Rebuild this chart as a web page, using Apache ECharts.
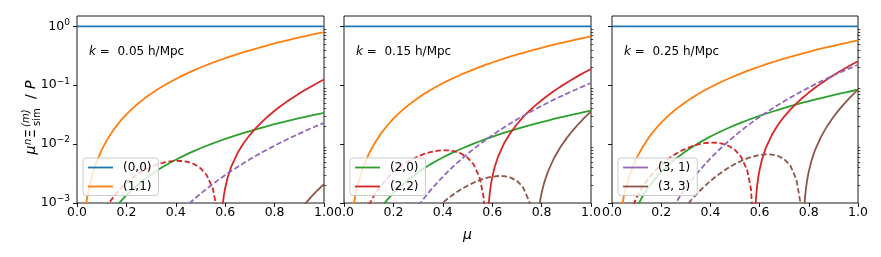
<!DOCTYPE html>
<html><head><meta charset="utf-8">
<script src="https://cdn.jsdelivr.net/npm/echarts@6/dist/echarts.min.js"></script>
<style>html,body{margin:0;padding:0;background:#fff}#c{width:881px;height:257px}</style>
</head><body><div id="c"></div>
<script>
// ---- data ----
const mu = [0.025,0.05,0.075,0.1,0.125,0.15,0.175,0.2,0.225,0.25,0.275,0.3,0.325,0.35,0.375,0.4,0.425,0.45,0.475,0.5,0.525,0.55,0.565,0.575,0.585,0.6,0.625,0.65,0.675,0.7,0.725,0.75,0.765,0.77,0.775,0.785,0.8,0.825,0.85,0.875,0.9,0.925,0.95,0.975,1.0];
const muRedPos = [0.58,0.585,0.59,0.595,0.6,0.61,0.625,0.65,0.675,0.7,0.725,0.75,0.775,0.8,0.825,0.85,0.875,0.9,0.925,0.95,0.975,1.0];
const muBrownPos = [0.775,0.78,0.785,0.79,0.795,0.8,0.81,0.825,0.85,0.875,0.9,0.925,0.95,0.975,1.0];
const muEnds = [0, 1];
const panelLabels = ['0.05', '0.15', '0.25'];
const legendNames = [['(0,0)', '(1,1)'], ['(2,0)', '(2,2)'], ['(3,1)', '(3,3)']];
const yMajorTicks = [0.001, 0.01, 0.1, 1];
const yMinorTicks = [0.002,0.003,0.004,0.005,0.006,0.007,0.008,0.009,0.02,0.03,0.04,0.05,0.06,0.07,0.08,0.09,0.2,0.3,0.4,0.5,0.6,0.7,0.8,0.9];

// (0,0) monopole: constant
const m00 = [1, 1];

// k = 0.05
const m11_a = [0.0005,0.002,0.0045,0.008,0.0125,0.018,0.0245,0.032,0.0405,0.05,0.0605,0.072,0.0845,0.098,0.1125,0.128,0.1445,0.162,0.1805,0.2,0.2205,0.242,0.2554,0.2645,0.2738,0.288,0.3125,0.338,0.3645,0.392,0.4205,0.45,0.4682,0.4743,0.4805,0.493,0.512,0.5445,0.578,0.6125,0.648,0.6845,0.722,0.7605,0.8];
const m20_a = [2.125e-5,8.5e-5,1.9125e-4,3.4e-4,5.3125e-4,7.65e-4,1.0413e-3,1.36e-3,1.7213e-3,2.125e-3,2.5713e-3,3.06e-3,3.5913e-3,4.165e-3,4.7813e-3,5.44e-3,6.1413e-3,6.885e-3,7.6713e-3,8.5e-3,9.3713e-3,0.010285,0.010854,0.011241,0.011636,0.01224,0.013281,0.014365,0.015491,0.01666,0.017871,0.019125,0.019898,0.020159,0.020421,0.020952,0.02176,0.023141,0.024565,0.026031,0.02754,0.029091,0.030685,0.032321,0.034];
const m22neg_a = [3.9e-5,1.551e-4,3.456e-4,6.063e-4,9.308e-4,1.3114e-3,1.7383e-3,2.2e-3,2.6835e-3,3.1739e-3,3.6543e-3,4.1063e-3,4.5098e-3,4.8426e-3,5.0811e-3,5.2e-3,5.1718e-3,4.9676e-3,4.5565e-3,3.9063e-3,2.9824e-3,1.7489e-3,8.445e-4,1.679e-4];
const m22pos_a = [1.934e-4,5.706e-4,9.638e-4,1.3735e-3,1.8e-3,2.7048e-3,4.1961e-3,7.0636e-3,0.010447,0.014394,0.018951,0.02417,0.030101,0.0368,0.04432,0.05272,0.062058,0.072394,0.083791,0.096314,0.110028,0.125];
const m31neg_a = [8.98e-9,1.4375e-7,7.277e-7,2.3e-6,5.614e-6,1.1644e-5,2.1572e-5,3.68e-5,5.8947e-5,8.9844e-5,1.3154e-4,1.863e-4,2.5661e-4,3.4514e-4,4.5483e-4,5.888e-4,7.5038e-4,9.4314e-4,1.1709e-3,1.4375e-3,1.7473e-3,2.1046e-3,2.3438e-3,2.5142e-3,2.6937e-3,2.9808e-3,3.5095e-3,4.1056e-3,4.7747e-3,5.5223e-3,6.3545e-3,7.2773e-3,7.8772e-3,8.0852e-3,8.2973e-3,8.7339e-3,9.4208e-3,0.010655,0.012006,0.013482,0.01509,0.016838,0.018734,0.020785,0.023];
const m33neg_a = [];
const m33pos_a = [1.184e-6,1.6324e-5,3.235e-5,4.928e-5,6.716e-5,8.602e-5,1.2678e-4,1.961e-4,3.357e-4,5.097e-4,7.233e-4,9.825e-4,1.2935e-3,1.6635e-3,2.1e-3];

// k = 0.15
const m11_b = [4.225e-4,1.69e-3,3.8025e-3,6.76e-3,0.010563,0.01521,0.020703,0.02704,0.034223,0.04225,0.051123,0.06084,0.071403,0.08281,0.095063,0.10816,0.1221,0.13689,0.15252,0.169,0.18632,0.20449,0.2158,0.2235,0.23134,0.24336,0.26406,0.28561,0.308,0.33124,0.35532,0.38025,0.39561,0.4008,0.40602,0.41657,0.43264,0.4601,0.48841,0.51756,0.54756,0.5784,0.61009,0.64262,0.676];
const m20_b = [2.3125e-5,9.25e-5,2.0813e-4,3.7e-4,5.7813e-4,8.325e-4,1.1331e-3,1.48e-3,1.8731e-3,2.3125e-3,2.7981e-3,3.33e-3,3.9081e-3,4.5325e-3,5.2031e-3,5.92e-3,6.6831e-3,7.4925e-3,8.3481e-3,9.25e-3,0.010198,0.011193,0.011811,0.012233,0.012662,0.01332,0.014453,0.015633,0.016858,0.01813,0.019448,0.020813,0.021653,0.021937,0.022223,0.0228,0.02368,0.025183,0.026733,0.028328,0.02997,0.031658,0.033393,0.035173,0.037];
const m22neg_b = [5.895e-5,2.3447e-4,5.2259e-4,9.1665e-4,1.4073e-3,1.9828e-3,2.6282e-3,3.3264e-3,4.0575e-3,4.7989e-3,5.5252e-3,6.2087e-3,6.8187e-3,7.322e-3,7.6827e-3,7.8624e-3,7.8197e-3,7.511e-3,6.8894e-3,5.9063e-3,4.5094e-3,2.6443e-3,1.2768e-3,2.5386e-4];
const m22pos_b = [2.9246e-4,8.6267e-4,1.4573e-3,2.0767e-3,2.7216e-3,4.0896e-3,6.3445e-3,0.01068,0.015796,0.021763,0.028654,0.036545,0.045513,0.055642,0.067012,0.079713,0.093831,0.10946,0.12669,0.14563,0.16636,0.189];
const m31neg_b = [4.258e-8,6.8125e-7,3.4488e-6,1.09e-5,2.6607e-5,5.5181e-5,1.0223e-4,1.744e-4,2.7936e-4,4.2578e-4,6.2338e-4,8.829e-4,1.2161e-3,1.6357e-3,2.1555e-3,2.7904e-3,3.5561e-3,4.4697e-3,5.5489e-3,6.8125e-3,8.2806e-3,9.9742e-3,0.011108,0.011915,0.012766,0.014126,0.016632,0.019457,0.022628,0.026171,0.030115,0.034488,0.037331,0.038317,0.039322,0.041391,0.044646,0.050494,0.056899,0.063894,0.071515,0.079798,0.088781,0.098502,0.109];
const m33neg_b = [2.107e-8,3.361e-7,1.6927e-6,5.31e-6,1.2841e-5,2.6312e-5,4.806e-5,8.064e-5,1.2672e-4,1.8896e-4,2.6991e-4,3.7179e-4,4.964e-4,6.449e-4,8.176e-4,1.01376e-3,1.2314e-3,1.467e-3,1.7153e-3,1.96875e-3,2.2178e-3,2.4501e-3,2.5752e-3,2.6502e-3,2.7171e-3,2.7994e-3,2.8753e-3,2.8517e-3,2.6974e-3,2.377e-3,1.8493e-3,1.0679e-3,4.5544e-4,2.2463e-4];
const m33pos_b = [2.0293e-5,2.7984e-4,5.5451e-4,8.4485e-4,1.1514e-3,1.4746e-3,2.1734e-3,3.3615e-3,5.755e-3,8.7379e-3,0.0124,0.016843,0.022175,0.028517,0.036];

// k = 0.25
const m11_c = [3.6125e-4,1.445e-3,3.2513e-3,5.78e-3,9.0313e-3,0.013005,0.017701,0.02312,0.029261,0.036125,0.043711,0.05202,0.061051,0.070805,0.081281,0.09248,0.1044,0.11705,0.13041,0.1445,0.15931,0.17485,0.18451,0.1911,0.1978,0.20808,0.22578,0.24421,0.26335,0.28322,0.30381,0.32513,0.33826,0.3427,0.34716,0.35618,0.36992,0.3934,0.41761,0.44253,0.46818,0.49455,0.52165,0.54946,0.578];
const m20_c = [5.25e-5,2.1e-4,4.725e-4,8.4e-4,1.3125e-3,1.89e-3,2.5725e-3,3.36e-3,4.2525e-3,5.25e-3,6.3525e-3,7.56e-3,8.8725e-3,0.01029,0.011813,0.01344,0.015173,0.01701,0.018953,0.021,0.023153,0.02541,0.026815,0.027773,0.028747,0.03024,0.032813,0.03549,0.038273,0.04116,0.044153,0.04725,0.049159,0.049804,0.050453,0.051763,0.05376,0.057173,0.06069,0.064313,0.06804,0.071873,0.07581,0.079853,0.084];
const m22neg_c = [7.953e-5,3.1635e-4,7.0508e-4,1.23675e-3,1.8987e-3,2.6752e-3,3.546e-3,4.488e-3,5.4743e-3,6.4747e-3,7.4547e-3,8.3768e-3,9.1999e-3,9.879e-3,0.010365,0.010608,0.01055,0.010134,9.2953e-3,7.9688e-3,6.084e-3,3.5677e-3,1.7227e-3,3.4252e-4];
const m22pos_c = [3.9459e-4,1.1639e-3,1.9662e-3,2.8019e-3,3.672e-3,5.5177e-3,8.5601e-3,0.01441,0.021312,0.029363,0.038661,0.049307,0.061407,0.075072,0.090413,0.10755,0.1266,0.14768,0.17093,0.19648,0.22446,0.255];
const m31neg_c = [8.711e-8,1.3938e-6,7.0557e-6,2.23e-5,5.4434e-5,1.1289e-4,2.0915e-4,3.568e-4,5.7153e-4,8.711e-4,1.2754e-3,1.8063e-3,2.488e-3,3.3463e-3,4.4098e-3,5.7088e-3,7.2754e-3,9.1443e-3,0.011352,0.013938,0.016941,0.020406,0.022725,0.024377,0.026117,0.028901,0.034027,0.039807,0.046293,0.053542,0.061611,0.070559,0.076375,0.078391,0.080447,0.08468,0.091341,0.1033,0.11641,0.13072,0.14631,0.16326,0.18164,0.20152,0.223];
const m33neg_c = [4.917e-8,7.842e-7,3.9497e-6,1.239e-5,2.9963e-5,6.1396e-5,1.1214e-4,1.8816e-4,2.9568e-4,4.4092e-4,6.2979e-4,8.6751e-4,1.1583e-3,1.5048e-3,1.9077e-3,2.3654e-3,2.8733e-3,3.423e-3,4.0023e-3,4.5938e-3,5.1749e-3,5.7169e-3,6.0087e-3,6.1837e-3,6.3399e-3,6.5318e-3,6.7091e-3,6.6539e-3,6.294e-3,5.5464e-3,4.3151e-3,2.4917e-3,1.0627e-3,5.2414e-4];
const m33pos_c = [4.735e-5,6.5295e-4,1.2939e-3,1.9713e-3,2.6865e-3,3.4406e-3,5.0713e-3,7.8435e-3,0.013428,0.020388,0.028934,0.039299,0.051741,0.06654,0.084];

const panels = [
  {m11: m11_a, m20: m20_a, m22neg: m22neg_a, m22pos: m22pos_a, m31neg: m31neg_a, m33neg: m33neg_a, m33pos: m33pos_a},
  {m11: m11_b, m20: m20_b, m22neg: m22neg_b, m22pos: m22pos_b, m31neg: m31neg_b, m33neg: m33neg_b, m33pos: m33pos_b},
  {m11: m11_c, m20: m20_c, m22neg: m22neg_c, m22pos: m22pos_c, m31neg: m31neg_c, m33neg: m33neg_c, m33pos: m33pos_c}
];

// ---- styling / layout ----
const C = {b:'#1f77b4', o:'#ff7f0e', g:'#2ca02c', r:'#d62728', p:'#9467bd', br:'#8c564b'};
const FONT = 'DejaVu Sans';
const gridPos = [{left:77, width:247}, {left:344, width:247}, {left:612, width:246}];
const gridTop = 16, gridH = 187;
const DASH = [5.5, 2.6];
const LW = 1.8;

function pairs(xs, ys) { return ys.map((v, i) => [xs[i], v]); }
function sup(e) { return e < 0 ? '\u2212' + (-e) : String(e); }

const grids = [], xAxes = [], yAxes = [], series = [], legends = [], graphics = [];
gridPos.forEach((g, i) => {
  grids.push({left: g.left, top: gridTop, width: g.width, height: gridH, show: true, borderColor: '#000', borderWidth: 0.9, backgroundColor: 'transparent'});
  xAxes.push({
    type: 'value', gridIndex: i, min: 0, max: 1, interval: 0.2,
    axisLine: {show: false}, splitLine: {show: false},
    axisTick: {show: true, inside: false, length: 4, lineStyle: {color: '#000', width: 0.9}},
    axisLabel: {fontFamily: FONT, fontSize: 12.5, color: '#000', margin: 3.5, formatter: v => v.toFixed(1), showMinLabel: true, showMaxLabel: true, hideOverlap: false},
    name: i === 1 ? '\u03bc' : '', nameLocation: 'middle', nameGap: 25,
    nameTextStyle: {fontFamily: FONT, fontSize: 14, fontStyle: 'italic', color: '#000'}
  });
  yAxes.push({
    type: 'log', logBase: 10, gridIndex: i, min: 0.001, max: 1.5,
    axisLine: {show: false}, splitLine: {show: false}, minorTick: {show: false},
    axisTick: {show: true, inside: false, length: 4, customValues: yMajorTicks, lineStyle: {color: '#000', width: 0.9}},
    axisLabel: {show: i === 0, customValues: yMajorTicks, margin: 7, color: '#000',
      formatter: v => '{b|10}{s|' + sup(Math.round(Math.log10(v))) + '}',
      rich: {b: {fontFamily: FONT, fontSize: 12.5, color: '#000'}, s: {fontFamily: FONT, fontSize: 9, color: '#000', padding: [0, 0, 8, 0]}}}
  });
  yAxes.push({
    type: 'log', logBase: 10, gridIndex: i, min: 0.001, max: 1.5,
    axisLine: {show: false}, splitLine: {show: false}, axisLabel: {show: false},
    axisTick: {show: true, inside: false, length: 2.3, customValues: yMinorTicks, lineStyle: {color: '#000', width: 0.7}}
  });
  const P = panels[i];
  const base = {type: 'line', xAxisIndex: i, yAxisIndex: 2 * i, showSymbol: false, symbol: 'none', silent: true, animation: false, clip: true};
  const solid = c => ({color: c, width: LW});
  const dashed = c => ({color: c, width: LW, type: DASH});
  series.push(Object.assign({}, base, {name: '(0,0)', data: pairs(muEnds, m00), lineStyle: solid(C.b), itemStyle: {color: C.b}}));
  series.push(Object.assign({}, base, {name: '(1,1)', data: pairs(mu, P.m11), lineStyle: solid(C.o), itemStyle: {color: C.o}}));
  series.push(Object.assign({}, base, {name: '(2,0)', data: pairs(mu, P.m20), lineStyle: solid(C.g), itemStyle: {color: C.g}}));
  series.push(Object.assign({}, base, {name: '(2,2)', data: pairs(muRedPos, P.m22pos), lineStyle: solid(C.r), itemStyle: {color: C.r}}));
  series.push(Object.assign({}, base, {name: '(2,2) neg', data: pairs(mu, P.m22neg), lineStyle: dashed(C.r), itemStyle: {color: C.r}}));
  series.push(Object.assign({}, base, {name: '(3,1)', data: [], lineStyle: solid(C.p), itemStyle: {color: C.p}}));
  series.push(Object.assign({}, base, {name: '(3,1) neg', data: pairs(mu, P.m31neg), lineStyle: dashed(C.p), itemStyle: {color: C.p}}));
  series.push(Object.assign({}, base, {name: '(3,3)', data: pairs(muBrownPos, P.m33pos), lineStyle: solid(C.br), itemStyle: {color: C.br}}));
  series.push(Object.assign({}, base, {name: '(3,3) neg', data: pairs(mu, P.m33neg), lineStyle: dashed(C.br), itemStyle: {color: C.br}}));

  legends.push({
    data: legendNames[i], orient: 'vertical', left: g.left + 6, top: 158,
    icon: 'rect', itemWidth: 25, itemHeight: 1.8, itemGap: 7, selectedMode: false,
    backgroundColor: 'rgba(255,255,255,0.8)', borderColor: '#cccccc', borderWidth: 1, borderRadius: 3,
    padding: [3.5, 7, 3, 5],
    formatter: n => (i === 2 ? n.replace(',', ', ') : n),
    textStyle: {fontFamily: FONT, fontSize: 12, color: '#000', padding: [0, 0, 0, 5]}
  });
  graphics.push({
    type: 'text', x: g.left + 12, y: 51.5, silent: true,
    style: {text: '{i|k}{t| =  ' + panelLabels[i] + ' h/Mpc}', verticalAlign: 'middle', rich: {
      i: {fontFamily: FONT, fontSize: 12, fontStyle: 'italic', fill: '#000'},
      t: {fontFamily: FONT, fontSize: 12, fill: '#000'}}}
  });
});

// y-axis title: mu^n Xi^(m)_sim / P
graphics.push({
  type: 'group', x: 38, y: 155, rotation: Math.PI / 2, silent: true,
  children: [
    {type: 'text', x: 0.5, y: 0, style: {text: '\u03bc', font: 'italic 14px "DejaVu Sans"', fill: '#000', verticalAlign: 'bottom'}},
    {type: 'text', x: 10, y: -5, style: {text: 'n', font: 'italic 10px "DejaVu Sans"', fill: '#000', verticalAlign: 'bottom'}},
    {type: 'text', x: 17, y: 0, style: {text: '\u039e', font: '14px "DejaVu Sans"', fill: '#000', verticalAlign: 'bottom'}},
    {type: 'text', x: 28, y: -7, style: {text: '(m)', font: 'italic 10px "DejaVu Sans"', fill: '#000', verticalAlign: 'bottom'}},
    {type: 'text', x: 29, y: 4, style: {text: 'sim', font: '10px "DejaVu Sans"', fill: '#000', verticalAlign: 'bottom'}},
    {type: 'text', x: 56, y: 0, style: {text: '/', font: '14px "DejaVu Sans"', fill: '#000', verticalAlign: 'bottom'}},
    {type: 'text', x: 66, y: 0, style: {text: 'P', font: 'italic 14px "DejaVu Sans"', fill: '#000', verticalAlign: 'bottom'}}
  ]
});

const chart = echarts.init(document.getElementById('c'), null, {renderer: 'canvas'});
chart.setOption({
  animation: false, backgroundColor: '#fff',
  grid: grids, xAxis: xAxes, yAxis: yAxes, series: series, legend: legends, graphic: graphics
});
</script></body></html>
